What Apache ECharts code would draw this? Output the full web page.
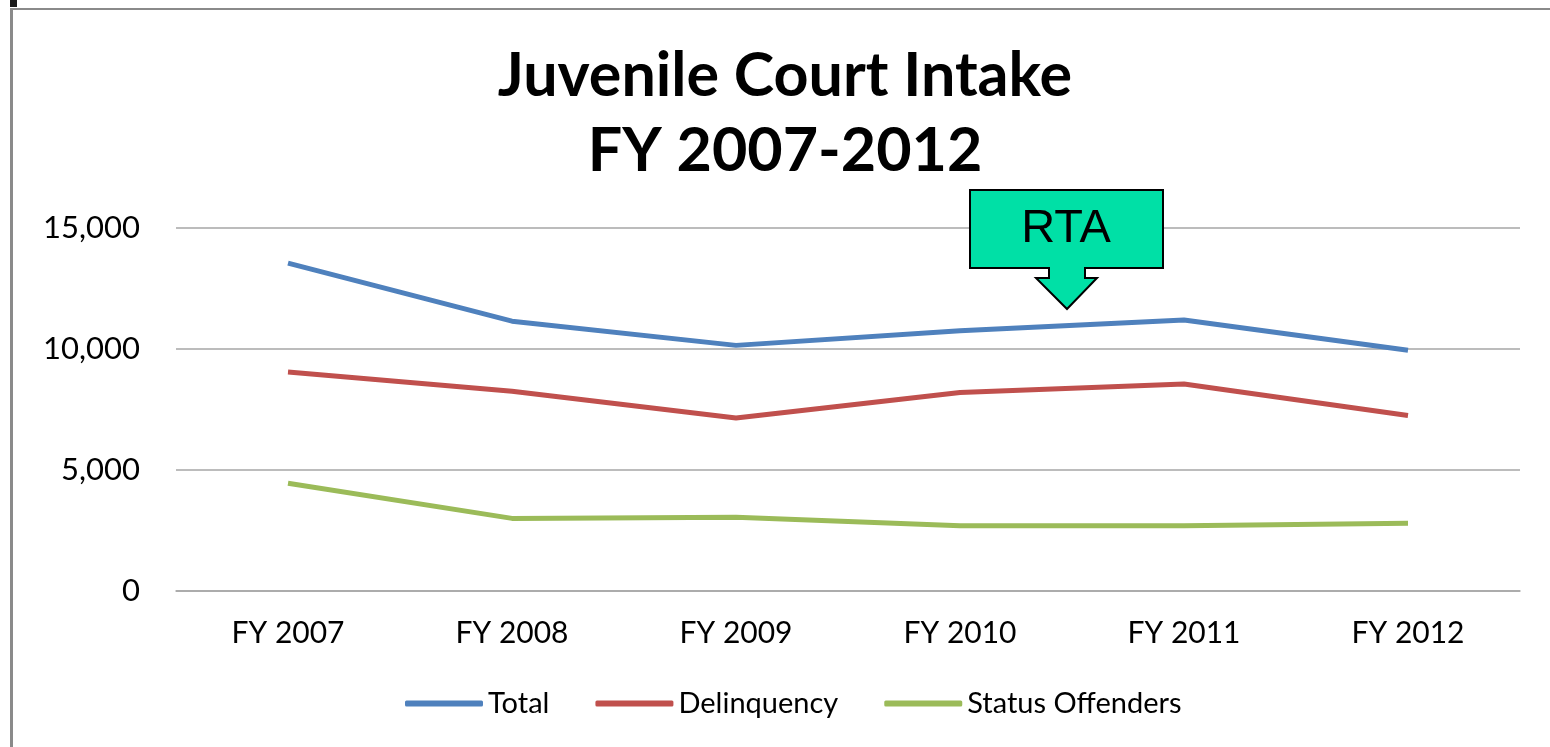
<!DOCTYPE html>
<html>
<head>
<meta charset="utf-8">
<script src="https://cdn.jsdelivr.net/npm/echarts@6/dist/echarts.min.js"></script>
<style>
html,body{margin:0;padding:0;background:#fff;}
#chart{width:1550px;height:747px;}
</style>
</head>
<body>
<div id="chart"></div>
<script>
var categories = ['FY 2007', 'FY 2008', 'FY 2009', 'FY 2010', 'FY 2011', 'FY 2012'];
var totalValues = [13550, 11150, 10150, 10750, 11200, 9950];
var delinquencyValues = [9050, 8250, 7150, 8200, 8550, 7250];
var statusValues = [4450, 3000, 3050, 2700, 2700, 2800];
var seriesNames = ['Total', 'Delinquency', 'Status Offenders'];
var yTicks = [0, 5000, 10000, 15000];

var chart = echarts.init(document.getElementById('chart'), null, {renderer: 'canvas'});
var fontFam = 'Lato, "Open Sans", sans-serif';

chart.setOption({
  animation: false,
  backgroundColor: '#fff',
  title: {
    text: 'Juvenile Court Intake\nFY 2007-2012',
    left: 780,
    textAlign: 'center',
    top: 34,
    textStyle: {fontFamily: fontFam, fontSize: 61, fontWeight: 'bold', color: '#000', lineHeight: 75}
  },
  legend: {
    data: seriesNames,
    bottom: 24,
    left: 400,
    icon: 'roundRect',
    itemWidth: 78,
    itemHeight: 6,
    itemGap: 46,
    textStyle: {fontFamily: fontFam, fontSize: 29, color: '#000'}
  },
  grid: {left: 176, right: 30, top: 228, bottom: 156, containLabel: false},
  xAxis: {
    type: 'category',
    data: categories,
    boundaryGap: true,
    axisLine: {show: true, lineStyle: {color: '#a6a6a6', width: 1.5}},
    axisTick: {show: false},
    axisLabel: {fontFamily: fontFam, fontSize: 30, color: '#000', margin: 27}
  },
  yAxis: {
    type: 'value',
    min: yTicks[0],
    max: yTicks[yTicks.length - 1],
    interval: yTicks[1] - yTicks[0],
    axisLine: {show: false},
    axisTick: {show: false},
    splitLine: {lineStyle: {color: '#a6a6a6', width: 1.5}},
    axisLabel: {
      fontFamily: fontFam, fontSize: 31, color: '#000', margin: 36,
      formatter: function (v) { return v.toLocaleString('en-US'); }
    }
  },
  series: [
    {name: seriesNames[0], type: 'line', data: totalValues, showSymbol: false, symbol: 'none',
     lineStyle: {color: '#4F81BD', width: 5}, itemStyle: {color: '#4F81BD'}},
    {name: seriesNames[1], type: 'line', data: delinquencyValues, showSymbol: false, symbol: 'none',
     lineStyle: {color: '#C0504D', width: 5}, itemStyle: {color: '#C0504D'}},
    {name: seriesNames[2], type: 'line', data: statusValues, showSymbol: false, symbol: 'none',
     lineStyle: {color: '#9BBB59', width: 5}, itemStyle: {color: '#9BBB59'}}
  ],
  graphic: [
    {type: 'rect', shape: {x: 10, y: 0, width: 7, height: 7}, style: {fill: '#1a1a1a'}, z: 100},
    {type: 'rect', shape: {x: 10, y: 8, width: 1540, height: 2}, style: {fill: '#8a8a8a'}, z: 100},
    {type: 'rect', shape: {x: 10, y: 8, width: 3, height: 739}, style: {fill: '#8a8a8a'}, z: 100},
    {
      type: 'polygon',
      shape: {points: [[970, 190], [1163, 190], [1163, 268], [1085, 268], [1085, 278], [1097, 278],
                       [1067, 309], [1036, 278], [1049, 278], [1049, 268], [970, 268]]},
      style: {fill: '#00E0A6', stroke: '#000', lineWidth: 2},
      z: 100
    },
    {
      type: 'text',
      x: 1066, y: 229,
      style: {text: 'RTA', font: '47px "Liberation Sans", Arial, sans-serif', fill: '#000',
              align: 'center', verticalAlign: 'middle'},
      z: 101
    }
  ]
});
</script>
</body>
</html>
